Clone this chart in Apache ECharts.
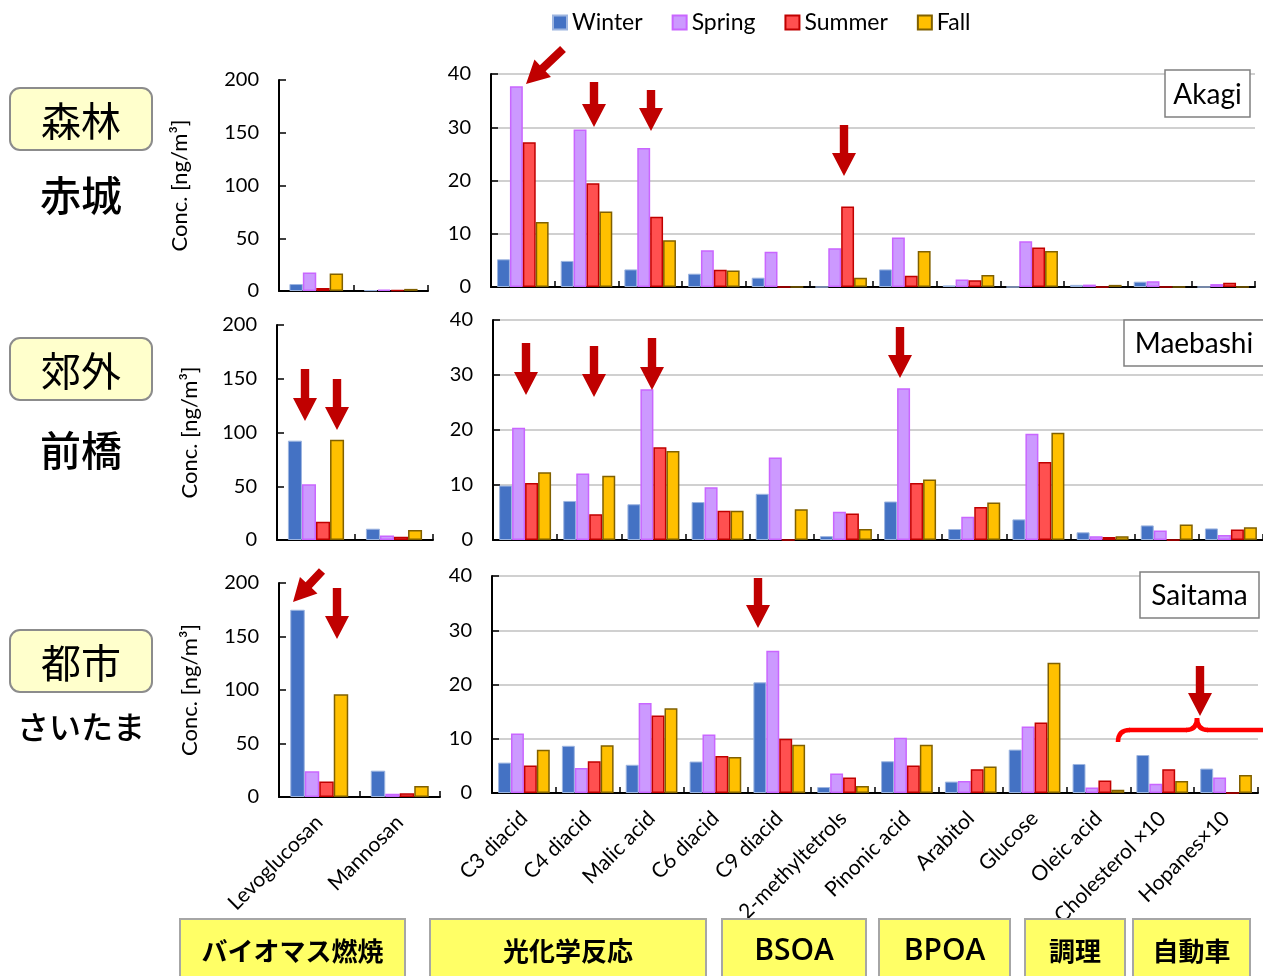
<!DOCTYPE html>
<html><head><meta charset="utf-8">
<script src="https://cdn.jsdelivr.net/npm/echarts@6/dist/echarts.min.js"></script>
<style>html,body{margin:0;padding:0;background:#fff}#c{width:1263px;height:976px}</style>
</head><body><div id="c"></div>
<script>
// ---------- categories & ticks ----------
const seasons = ['Winter', 'Spring', 'Summer', 'Fall'];
const leftCategories = ['Levoglucosan', 'Mannosan'];
const rightCategories = ['C3 diacid', 'C4 diacid', 'Malic acid', 'C6 diacid', 'C9 diacid', '2-methyltetrols',
  'Pinonic acid', 'Arabitol', 'Glucose', 'Oleic acid', 'Cholesterol ×10', 'Hopanes×10'];
const leftAxisTicks = [0, 50, 100, 150, 200];
const rightAxisTicks = [0, 10, 20, 30, 40];
const stations = ['Akagi', 'Maebashi', 'Saitama'];

// ---------- Akagi (forest) ----------
const akagiLeftWinter = [6.6, 0.8];
const akagiLeftSpring = [17.5, 1.2];
const akagiLeftSummer = [2.9, 0.8];
const akagiLeftFall   = [16.5, 2.0];
const akagiRightWinter = [5.2, 4.9, 3.3, 2.5, 1.75, 0, 3.3, 0.3, 0, 0.4, 1.0, 0];
const akagiRightSpring = [37.7, 29.6, 26.1, 6.9, 6.6, 7.3, 9.3, 1.4, 8.6, 0.45, 1.1, 0.55];
const akagiRightSummer = [27.2, 19.5, 13.2, 3.25, 0, 15.1, 2.1, 1.25, 7.4, 0, 0, 0.8];
const akagiRightFall   = [12.2, 14.2, 8.8, 3.1, 0, 1.75, 6.75, 2.25, 6.75, 0.4, 0, 0];

// ---------- Maebashi (suburban) ----------
const maebashiLeftWinter = [92.4, 10.5];
const maebashiLeftSpring = [51.8, 4.3];
const maebashiLeftSummer = [17.0, 3.1];
const maebashiLeftFall   = [93.3, 9.3];
const maebashiRightWinter = [9.9, 7.1, 6.5, 6.9, 8.4, 0.7, 7.0, 2.0, 3.75, 1.4, 2.65, 2.1];
const maebashiRightSpring = [20.4, 12.1, 27.4, 9.6, 15.0, 5.15, 27.6, 4.25, 19.3, 0.7, 1.75, 0.9];
const maebashiRightSummer = [10.35, 4.7, 16.85, 5.3, 0, 4.8, 10.35, 6.0, 14.2, 0.55, 0, 1.9];
const maebashiRightFall   = [12.3, 11.7, 16.2, 5.3, 5.6, 2.0, 11.0, 6.8, 19.5, 0.7, 2.8, 2.3];

// ---------- Saitama (urban) ----------
const saitamaLeftWinter = [175, 24.6];
const saitamaLeftSpring = [24, 3.1];
const saitamaLeftSummer = [14.6, 3.4];
const saitamaLeftFall   = [96, 10.3];
const saitamaRightWinter = [5.6, 8.7, 5.2, 5.8, 20.4, 1.1, 5.85, 2.1, 8.0, 5.35, 7.0, 4.5];
const saitamaRightSpring = [10.95, 4.6, 16.6, 10.8, 26.2, 3.6, 10.2, 2.2, 12.25, 1.0, 1.7, 2.85];
const saitamaRightSummer = [5.05, 5.85, 14.3, 6.8, 10.0, 2.85, 5.05, 4.4, 13.0, 2.3, 4.4, 0];
const saitamaRightFall   = [7.95, 8.8, 15.6, 6.65, 8.9, 1.3, 8.9, 4.9, 24.0, 0.6, 2.2, 3.3];

// ---------- styles ----------
const FONT = 'Lato, "Noto Sans CJK JP", sans-serif';
const seasonStyle = {
  Winter: { color: '#4472C4', borderColor: '#9DB5E0', borderWidth: 1 },
  Spring: { color: '#CC99FF', borderColor: '#C966FF', borderWidth: 1.5 },
  Summer: { color: '#FF5050', borderColor: '#C00000', borderWidth: 1.5 },
  Fall:   { color: '#FFC000', borderColor: '#806000', borderWidth: 1.5 }
};

const panels = [
  { side: 'left',  grid: { left: 279, top: 80,  width: 149, height: 211 }, data: [akagiLeftWinter, akagiLeftSpring, akagiLeftSummer, akagiLeftFall], nameGap: 88, labels: false },
  { side: 'right', grid: { left: 491, top: 74,  width: 764, height: 213 }, data: [akagiRightWinter, akagiRightSpring, akagiRightSummer, akagiRightFall], labels: false },
  { side: 'left',  grid: { left: 277, top: 325, width: 156, height: 215 }, data: [maebashiLeftWinter, maebashiLeftSpring, maebashiLeftSummer, maebashiLeftFall], nameGap: 76, labels: false },
  { side: 'right', grid: { left: 493, top: 320, width: 770, height: 220 }, data: [maebashiRightWinter, maebashiRightSpring, maebashiRightSummer, maebashiRightFall], labels: false },
  { side: 'left',  grid: { left: 279, top: 583, width: 161, height: 214 }, data: [saitamaLeftWinter, saitamaLeftSpring, saitamaLeftSummer, saitamaLeftFall], nameGap: 78, labels: true },
  { side: 'right', grid: { left: 492, top: 576, width: 766, height: 217 }, data: [saitamaRightWinter, saitamaRightSpring, saitamaRightSummer, saitamaRightFall], labels: true }
];

const grids = [], xAxes = [], yAxes = [], series = [];
panels.forEach((p, i) => {
  const isLeft = p.side === 'left';
  const ticks = isLeft ? leftAxisTicks : rightAxisTicks;
  grids.push(Object.assign({ containLabel: false }, p.grid));
  xAxes.push({
    type: 'category', gridIndex: i,
    data: isLeft ? leftCategories : rightCategories,
    axisLine: { show: true, lineStyle: { color: '#000', width: 2 } },
    axisTick: { show: true, inside: true, length: 6, lineStyle: { color: '#000', width: 1.5 } },
    axisLabel: { show: p.labels, rotate: 45, margin: 22, fontSize: 21, color: '#000', fontFamily: FONT, interval: 0 },
    splitLine: { show: false }
  });
  yAxes.push({
    type: 'value', gridIndex: i,
    min: ticks[0], max: ticks[ticks.length - 1], interval: ticks[1] - ticks[0],
    axisLine: { show: true, lineStyle: { color: '#000', width: 2 } },
    axisTick: { show: true, inside: true, length: 7, lineStyle: { color: '#000', width: 1.5 } },
    axisLabel: { fontSize: 20, color: '#000', margin: 20, fontFamily: FONT },
    splitLine: { show: !isLeft, lineStyle: { color: '#C0C0C0', width: 1.5 } },
    name: isLeft ? 'Conc. [ng/m³]' : '',
    nameLocation: 'middle', nameRotate: 90, nameGap: p.nameGap || 0,
    nameTextStyle: { fontSize: 22, color: '#000', fontFamily: FONT }
  });
  seasons.forEach((s, k) => {
    series.push({
      name: s, type: 'bar', xAxisIndex: i, yAxisIndex: i,
      data: p.data[k],
      barGap: '0%', barCategoryGap: isLeft ? '28%' : '19%',
      itemStyle: seasonStyle[s],
      emphasis: { disabled: true }
    });
  });
});

// ---------- annotation graphics ----------
const ARROW = '#C00000';
function arrow(tx, ty, px, py) {
  const dx = px - tx, dy = py - ty, L = Math.hypot(dx, dy);
  const ux = dx / L, uy = dy / L, nx = -uy, ny = ux;
  const sw = 4.2, hw = 12, hl = 23;
  const bx = px - ux * hl, by = py - uy * hl;
  return {
    type: 'polygon', z: 100,
    shape: { points: [
      [tx + nx * sw, ty + ny * sw], [bx + nx * sw, by + ny * sw], [bx + nx * hw, by + ny * hw],
      [px, py],
      [bx - nx * hw, by - ny * hw], [bx - nx * sw, by - ny * sw], [tx - nx * sw, ty - ny * sw]
    ] },
    style: { fill: ARROW }
  };
}
const arrowsDef = [
  [563, 49, 526, 84], [594, 82, 594, 127], [651, 90, 651, 131], [844, 125, 844, 176],
  [305, 369, 305, 421], [337, 379, 337, 430], [526, 343, 526, 395], [594, 346, 594, 397],
  [652, 338, 652, 390], [900, 327, 900, 378],
  [322, 571, 293, 602], [337, 588, 337, 639], [758, 578, 758, 628], [1200, 666, 1200, 716]
];
const graphics = arrowsDef.map(a => arrow(a[0], a[1], a[2], a[3]));

// bracket in Saitama panel
const bracketStyle = { fill: 'none', stroke: '#FF0000', lineWidth: 4.5 };
graphics.push(
  { type: 'bezierCurve', z: 100, shape: { x1: 1118, y1: 742, cpx1: 1118, cpy1: 730, x2: 1130, y2: 730 }, style: bracketStyle },
  { type: 'line', z: 100, shape: { x1: 1129, y1: 730, x2: 1187, y2: 730 }, style: bracketStyle },
  { type: 'bezierCurve', z: 100, shape: { x1: 1186, y1: 730, cpx1: 1197, cpy1: 730, x2: 1197, y2: 718 }, style: bracketStyle },
  { type: 'bezierCurve', z: 100, shape: { x1: 1197, y1: 718, cpx1: 1197, cpy1: 730, x2: 1208, y2: 730 }, style: bracketStyle },
  { type: 'line', z: 100, shape: { x1: 1207, y1: 730, x2: 1266, y2: 730 }, style: bracketStyle }
);

// station boxes
const stationBoxes = [
  { x: 1165, y: 70, w: 85, h: 47 },
  { x: 1124, y: 320, w: 142, h: 46 },
  { x: 1140, y: 572, w: 119, h: 46 }
];
stations.forEach((s, i) => {
  const b = stationBoxes[i];
  graphics.push({ type: 'rect', z: 90, shape: { x: b.x, y: b.y, width: b.w, height: b.h },
    style: { fill: '#fff', stroke: '#808080', lineWidth: 1.5 } });
  graphics.push({ type: 'text', z: 91, style: { text: s, x: b.x + (i === 1 ? 70 : b.w / 2), y: b.y + b.h / 2 + 1,
    align: 'center', verticalAlign: 'middle', fontSize: 28, fontFamily: FONT, fill: '#000' } });
});

// left site labels
const siteTypes = ['森林', '郊外', '都市'];
const siteNames = ['赤城', '前橋', 'さいたま'];
const siteBoxTops = [88, 338, 630];
const siteNameY = [195, 450, 727];
const siteNameSize = [41, 41, 32];
siteTypes.forEach((t, i) => {
  graphics.push({ type: 'rect', z: 90, shape: { x: 10, y: siteBoxTops[i], width: 142, height: 62, r: 10 },
    style: { fill: '#FFFFCC', stroke: '#8C8C8C', lineWidth: 2 } });
  graphics.push({ type: 'text', z: 91, style: { text: t, x: 81, y: siteBoxTops[i] + 33, align: 'center', verticalAlign: 'middle',
    fontSize: 40, fontFamily: '"Noto Sans CJK JP"', fill: '#000' } });
  graphics.push({ type: 'text', z: 91, style: { text: siteNames[i], x: 81, y: siteNameY[i], align: 'center', verticalAlign: 'middle',
    fontSize: siteNameSize[i], fontFamily: '"Noto Sans CJK JP"', fontWeight: 500, fill: '#000' } });
});

// bottom source boxes
const sourceNames = ['バイオマス燃焼', '光化学反応', 'BSOA', 'BPOA', '調理', '自動車'];
const sourceX = [[180, 405], [430, 706], [722, 866], [879, 1010], [1025, 1125], [1133, 1250]];
sourceNames.forEach((n, i) => {
  const [a, b] = sourceX[i];
  const latin = /^[A-Z]+$/.test(n);
  graphics.push({ type: 'rect', z: 95, shape: { x: a, y: 919, width: b - a, height: 70 },
    style: { fill: '#FFFF66', stroke: '#A6A6A6', lineWidth: 2 } });
  graphics.push({ type: 'text', z: 96, style: { text: n, x: (a + b) / 2, y: 951, align: 'center', verticalAlign: 'middle',
    fontSize: latin ? 30 : 26, fontFamily: latin ? '"Open Sans", sans-serif' : '"Noto Sans CJK JP"', fontWeight: latin ? 600 : 'bold', fill: '#000' } });
});

const chart = echarts.init(document.getElementById('c'), null, { renderer: 'canvas' });
chart.setOption({
  animation: false,
  backgroundColor: '#fff',
  textStyle: { fontFamily: FONT },
  legend: {
    data: seasons, left: 547, top: 6, itemWidth: 14, itemHeight: 14, itemGap: 29,
    icon: 'rect',
    textStyle: { fontSize: 23, color: '#000', fontFamily: FONT }
  },
  grid: grids, xAxis: xAxes, yAxis: yAxes, series: series,
  graphic: graphics
});
</script>
</body></html>
